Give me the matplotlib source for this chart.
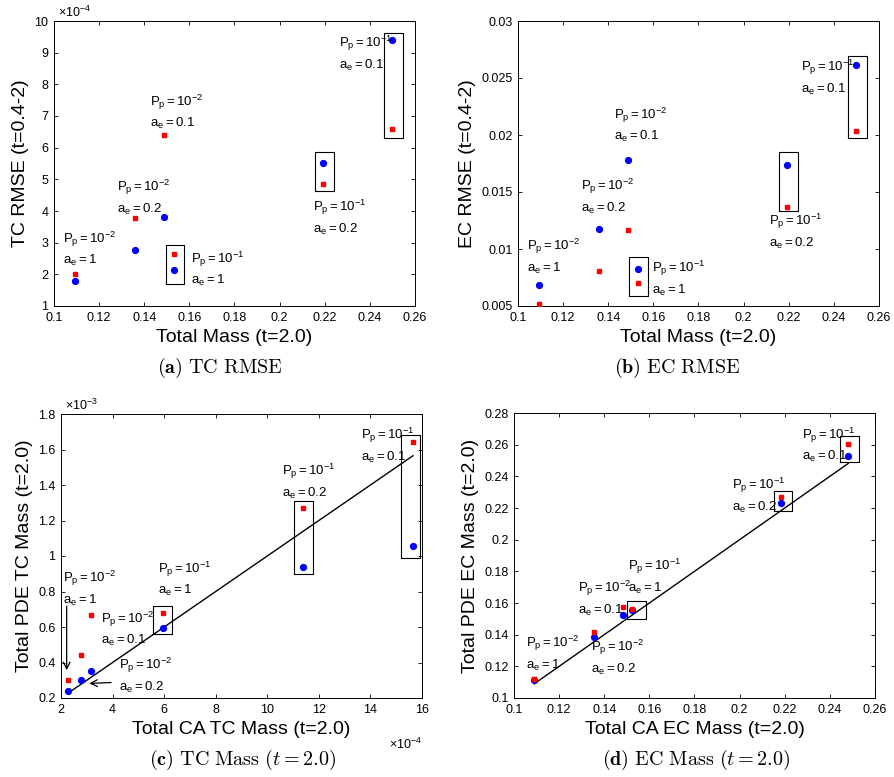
import matplotlib
matplotlib.use("Agg")
import matplotlib.pyplot as plt
from matplotlib.ticker import FuncFormatter

plt.rcParams['font.family'] = ['Liberation Sans', 'DejaVu Sans']
plt.rcParams['mathtext.fontset'] = 'custom'
plt.rcParams['mathtext.rm'] = 'Liberation Sans'
plt.rcParams['mathtext.it'] = 'Liberation Sans'

# %% data
# order: (P_p, a_e) = (1e-2,1), (1e-2,0.2), (1e-2,0.1), (1e-1,1), (1e-1,0.2), (1e-1,0.1)
total_mass = [0.1093, 0.1361, 0.1486, 0.1530, 0.2193, 0.2498]
tc_rmse_blue = [1.78, 2.78, 3.82, 2.14, 5.52, 9.39]      # x1e-4
tc_rmse_red = [2.00, 3.78, 6.39, 2.64, 4.85, 6.59]       # x1e-4
ec_rmse_blue = [0.00687, 0.01178, 0.0178, 0.00827, 0.01737, 0.02611]
ec_rmse_red = [0.00515, 0.00804, 0.01164, 0.00702, 0.01368, 0.02032]

ca_tc_mass = [2.28, 2.78, 3.18, 5.95, 11.40, 15.65]      # x1e-4
pde_tc_blue = [0.241, 0.3035, 0.3525, 0.595, 0.938, 1.059]  # x1e-3
pde_tc_red = [0.300, 0.443, 0.665, 0.678, 1.273, 1.644]     # x1e-3

ca_ec_mass = [0.1089, 0.1356, 0.1482, 0.1522, 0.2182, 0.2482]
pde_ec_blue = [0.1112, 0.1387, 0.1526, 0.1558, 0.2229, 0.2528]
pde_ec_red = [0.1120, 0.1415, 0.1573, 0.1562, 0.2269, 0.2606]

p_labels = ['10^{-2}', '10^{-2}', '10^{-2}', '10^{-1}', '10^{-1}', '10^{-1}']
a_labels = ['1', '0.2', '0.1', '1', '0.2', '0.1']

# label anchors (left, baseline of first line)
lab_a = [(0.1041, 3.0), (0.128, 4.63), (0.1425, 7.32), (0.1606, 2.37), (0.2146, 4.0), (0.2263, 9.18)]
lab_b = [(0.1041, 0.00988), (0.1281, 0.01515), (0.1426, 0.02143), (0.1594, 0.00798), (0.2112, 0.01208), (0.2254, 0.02561)]
lab_c = [(2.09, 0.853), (4.25, 0.364), (3.55, 0.625), (5.77, 0.906), (10.59, 1.456), (13.65, 1.659)]
lab_d = [(0.1055, 0.1322), (0.1343, 0.1295), (0.1284, 0.1667), (0.1507, 0.1806), (0.1965, 0.2318), (0.2275, 0.2638)]

# boxes (x0, x1, y0, y1)
box_a = [(0.1495, 0.1576, 1.705, 2.94), (0.2157, 0.2239, 4.62, 5.85), (0.2463, 0.2545, 6.31, 9.61)]
box_b = [(0.1492, 0.1576, 0.00588, 0.0093), (0.2157, 0.2239, 0.01336, 0.01848), (0.2464, 0.2545, 0.01974, 0.02696)]
box_c = [(5.58, 6.30, 0.558, 0.72), (11.04, 11.78, 0.899, 1.311), (15.2, 15.94, 0.987, 1.682)]
box_d = [(0.1501, 0.1584, 0.1499, 0.1611), (0.2152, 0.2233, 0.2179, 0.2305), (0.2445, 0.2528, 0.249, 0.2653)]

fig = plt.figure(figsize=(8.95, 7.77), dpi=100)
W, H = 895.0, 777.0

def make_ax(l, t, r, b):
    return fig.add_axes([l / W, 1 - b / H, (r - l) / W, (b - t) / H])

ax_a = make_ax(54, 21, 415, 306)
ax_b = make_ax(518, 21, 879, 306)
ax_c = make_ax(61, 414, 422, 698)
ax_d = make_ax(514, 413, 875, 698)

fmt = FuncFormatter(lambda v, p: '%g' % round(v, 6))

def style(ax, xlim, ylim, xt, yt, xlabel, ylabel):
    ax.set_xlim(xlim)
    ax.set_ylim(ylim)
    ax.set_xticks(xt)
    ax.set_yticks(yt)
    ax.xaxis.set_major_formatter(fmt)
    ax.yaxis.set_major_formatter(fmt)
    ax.tick_params(direction='in', length=3, width=0.6, labelsize=9, top=True, right=True, pad=4)
    for s in ax.spines.values():
        s.set_linewidth(0.7)
    ax.set_xlabel(xlabel, fontsize=14, labelpad=4)
    ax.set_ylabel(ylabel, fontsize=14, labelpad=4)

def points(ax, x, yb, yr):
    ax.plot(x, yb, 'o', color='#0000ff', ms=4.2, mec='#0000ff', ls='none', zorder=3)
    ax.plot(x, yr, 's', color='#ff0000', ms=3.2, mec='#ff0000', ls='none', zorder=3)

def labels(ax, pos):
    for (lx, ly), p, a in zip(pos, p_labels, a_labels):
        ax.text(lx, ly, r'$\mathrm{P_p=%s}$' % p, fontsize=9.5, va='baseline', ha='left')
        ax.annotate(r'$\mathrm{a_e=%s}$' % a, xy=(lx, ly), xytext=(0, -15.5),
                    textcoords='offset points', fontsize=9.5, va='baseline', ha='left')

def boxes(ax, bx):
    for x0, x1, y0, y1 in bx:
        ax.plot([x0, x1, x1, x0, x0], [y0, y0, y1, y1, y0], color='black', lw=0.8)

# (a)
style(ax_a, (0.1, 0.26), (1, 10), [0.1 + 0.02 * i for i in range(9)], range(1, 11),
      'Total Mass (t=2.0)', 'TC RMSE (t=0.4-2)')
points(ax_a, total_mass, tc_rmse_blue, tc_rmse_red)
labels(ax_a, lab_a)
boxes(ax_a, box_a)
ax_a.text(0.01, 1.005, r'$\times10^{-4}$', transform=ax_a.transAxes, fontsize=9, va='bottom', ha='left')

# (b)
style(ax_b, (0.1, 0.26), (0.005, 0.03), [0.1 + 0.02 * i for i in range(9)],
      [0.005 * i for i in range(1, 7)], 'Total Mass (t=2.0)', 'EC RMSE (t=0.4-2)')
points(ax_b, total_mass, ec_rmse_blue, ec_rmse_red)
labels(ax_b, lab_b)
boxes(ax_b, box_b)

# (c)
style(ax_c, (2, 16), (0.2, 1.8), range(2, 17, 2), [0.2 * i for i in range(1, 10)],
      'Total CA TC Mass (t=2.0)', 'Total PDE TC Mass (t=2.0)')
line_c = [min(ca_tc_mass), max(ca_tc_mass)]
ax_c.plot(line_c, [v / 10 for v in line_c], color='black', lw=1.0, zorder=2)
points(ax_c, ca_tc_mass, pde_tc_blue, pde_tc_red)
labels(ax_c, lab_c)
boxes(ax_c, box_c)
ax_c.annotate('', xy=(2.22, 0.341), xytext=(2.22, 0.733),
              arrowprops=dict(arrowstyle='->', color='black', lw=0.9, mutation_scale=12))
ax_c.annotate('', xy=(2.99, 0.281), xytext=(4.05, 0.288),
              arrowprops=dict(arrowstyle='->', color='black', lw=0.9, mutation_scale=12))
ax_c.text(0.01, 1.005, r'$\times10^{-3}$', transform=ax_c.transAxes, fontsize=9, va='bottom', ha='left')
ax_c.text(1.0, -0.135, r'$\times10^{-4}$', transform=ax_c.transAxes, fontsize=9, va='top', ha='right')

# (d)
style(ax_d, (0.1, 0.26), (0.1, 0.28), [0.1 + 0.02 * i for i in range(9)],
      [0.1 + 0.02 * i for i in range(10)], 'Total CA EC Mass (t=2.0)', 'Total PDE EC Mass (t=2.0)')
line_d = [min(ca_ec_mass), max(ca_ec_mass)]
ax_d.plot(line_d, line_d, color='black', lw=1.0, zorder=2)
points(ax_d, ca_ec_mass, pde_ec_blue, pde_ec_red)
labels(ax_d, lab_d)
boxes(ax_d, box_d)

# captions
cap = dict(fontsize=14.5, ha='center', va='center', math_fontfamily='cm')
fig.text(220 / W, 1 - 368 / H, r'$\mathbf{(a)}\ \mathrm{TC\ RMSE}$', **cap)
fig.text(677 / W, 1 - 368 / H, r'$\mathbf{(b)}\ \mathrm{EC\ RMSE}$', **cap)
fig.text(243 / W, 1 - 760 / H, r'$\mathbf{(c)}\ \mathrm{TC\ Mass}\ (t=2.0)$', **cap)
fig.text(696 / W, 1 - 760 / H, r'$\mathbf{(d)}\ \mathrm{EC\ Mass}\ (t=2.0)$', **cap)

fig.savefig('out.png', dpi=100)
